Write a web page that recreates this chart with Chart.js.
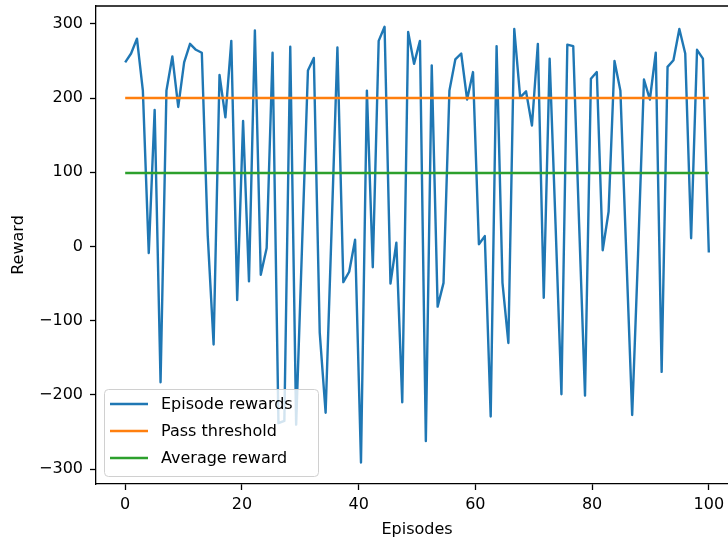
<!DOCTYPE html>
<html>
<head>
<meta charset="utf-8">
<script src="https://cdn.jsdelivr.net/npm/chart.js@4.4.0/dist/chart.umd.min.js"></script>
<style>
  html, body { margin: 0; padding: 0; background: #fff; overflow: hidden; }
  #wrap { width: 728px; height: 542px; overflow: hidden; }
  canvas { display: block; }
</style>
</head>
<body>
<div id="wrap"><canvas id="rewardChart" width="746" height="542"></canvas></div>
<script>
// values: 100 rewards spread evenly over 0..100
const episodes = Array.from({ length: 100 }, (_, i) => i * 100 / 99);
const episodeRewards = [
  248, 260, 280, 210, -9, 184, -183, 210, 256, 188,
  248, 273, 265, 261, 15, -132, 231, 174, 277, -72,
  169, -47, 291, -38, -2, 261, -238, -235, 269, -240,
  0, 237, 254, -116, -224, 20, 268, -48, -34, 9,
  -291, 210, -28, 277, 296, -50, 5, -210, 289, 246,
  277, -262, 244, -81, -49, 210, 252, 260, 198, 235,
  3, 14, -229, 270, -49, -130, 293, 201, 209, 163,
  273, -69, 253, 30, -199, 272, 270, 30, -201, 226,
  235, -5, 47, 250, 210, -10, -227, -10, 225, 198,
  261, -169, 242, 251, 293, 260, 11, 265, 253, -8
];
const passThreshold = [200, 200];
const averageReward = [99, 99];
const lineEnds = [0, 100];
const xTicks = [0, 20, 40, 60, 80, 100];
const yTicks = [-300, -200, -100, 0, 100, 200, 300];

const font = { family: "DejaVu Sans", size: 16 };

// draws the top spine and the legend box inside the plot, like matplotlib
const framePlugin = {
  id: "frame",
  afterDraw(chart) {
    const ctx = chart.ctx;
    const a = chart.chartArea;
    ctx.save();
    ctx.strokeStyle = "#000";
    ctx.lineWidth = 1.3;
    ctx.beginPath();
    ctx.moveTo(a.left, a.top);
    ctx.lineTo(a.right, a.top);
    ctx.lineTo(a.right, a.bottom);
    ctx.stroke();

    // legend
    const x0 = 104, y0 = 389, w = 214, h = 87;
    ctx.fillStyle = "rgba(255,255,255,0.8)";
    ctx.strokeStyle = "#d0d0d0";
    ctx.lineWidth = 1;
    ctx.beginPath();
    ctx.roundRect(x0 + 0.5, y0 + 0.5, w, h, 4);
    ctx.fill();
    ctx.stroke();
    ctx.font = "16px 'DejaVu Sans'";
    ctx.textBaseline = "middle";
    chart.data.datasets.forEach((ds, i) => {
      const y = 404 + i * 27;
      ctx.strokeStyle = ds.borderColor;
      ctx.lineWidth = 2.4;
      ctx.beginPath();
      ctx.moveTo(110, y);
      ctx.lineTo(148, y);
      ctx.stroke();
      ctx.fillStyle = "#000";
      ctx.fillText(ds.label, 161, y + 1);
    });
    ctx.restore();
  }
};

new Chart(document.getElementById("rewardChart"), {
  type: "line",
  data: {
    datasets: [
      {
        label: "Episode rewards",
        data: episodes.map((e, i) => ({ x: e, y: episodeRewards[i] })),
        borderColor: "#1f77b4",
        borderWidth: 2.4,
        order: 3
      },
      {
        label: "Pass threshold",
        data: lineEnds.map((e, i) => ({ x: e, y: passThreshold[i] })),
        borderColor: "#ff7f0e",
        borderWidth: 2.4,
        order: 2
      },
      {
        label: "Average reward",
        data: lineEnds.map((e, i) => ({ x: e, y: averageReward[i] })),
        borderColor: "#2ca02c",
        borderWidth: 2.4,
        order: 1
      }
    ]
  },
  options: {
    responsive: false,
    animation: false,
    devicePixelRatio: 1,
    layout: { padding: { top: 6, right: 8, left: 0, bottom: 0 } },
    elements: { point: { radius: 0 }, line: { tension: 0, borderJoinStyle: "round" } },
    plugins: { legend: { display: false }, tooltip: { enabled: false } },
    scales: {
      x: {
        type: "linear",
        min: -5,
        max: 105,
        afterFit: (s) => { s.height = 58; s.paddingLeft = 0; s.paddingRight = 0; },
        afterBuildTicks: (s) => { s.ticks = xTicks.map(v => ({ value: v })); },
        grid: { drawOnChartArea: false, tickLength: 6, tickColor: "#000", tickWidth: 1.3 },
        border: { color: "#000", width: 1.3 },
        ticks: { font: font, color: "#000", padding: 5, maxRotation: 0 },
        title: { display: true, text: "Episodes", font: font, color: "#000", padding: { top: 0, bottom: 3 } }
      },
      y: {
        min: -320,
        max: 324,
        afterFit: (s) => { s.width = 96; s.paddingTop = 0; s.paddingBottom = 0; },
        afterBuildTicks: (s) => { s.ticks = yTicks.map(v => ({ value: v })); },
        grid: { drawOnChartArea: false, tickLength: 6, tickColor: "#000", tickWidth: 1.3 },
        border: { color: "#000", width: 1.3 },
        ticks: {
          font: font, color: "#000", padding: 7,
          callback: (v) => String(v).replace("-", "\u2212")
        },
        title: { display: true, text: "Reward", font: font, color: "#000", padding: { top: 9, bottom: 0 } }
      }
    }
  },
  plugins: [framePlugin]
});
</script>
</body>
</html>
